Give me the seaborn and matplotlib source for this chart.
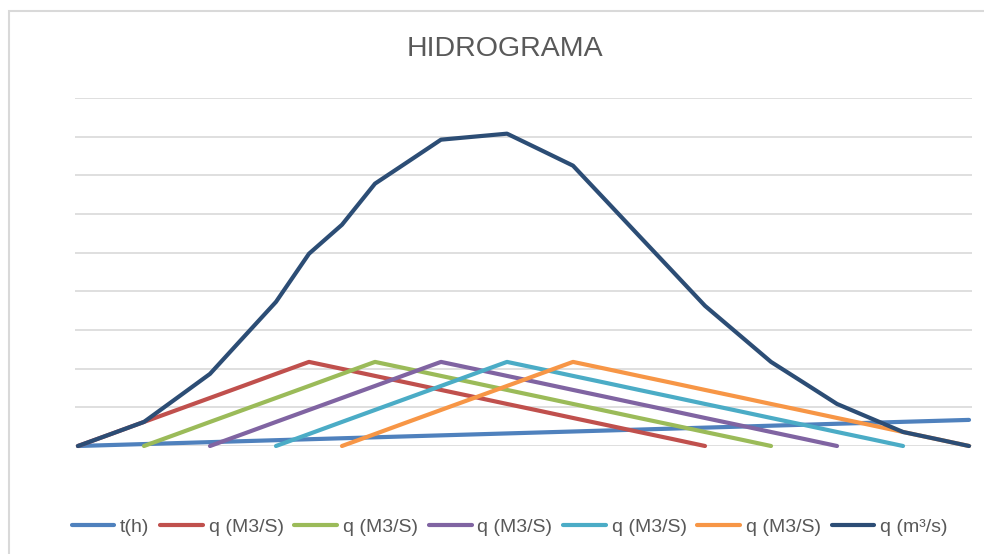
import numpy as np
import pandas as pd
import seaborn as sns
import matplotlib.pyplot as plt
from matplotlib.patches import Rectangle

nan = np.nan

# time steps (categories on the x axis)
t_h = [0, 1, 2, 3, 4, 5, 6, 7, 8, 9, 10, 11, 12, 13,
       14, 15, 16, 17, 18, 19, 20, 21, 22, 23, 24, 25, 26, 27]

# partial hydrographs, each shifted by two steps
q1 = [0, 12.4, 24.9, 37.3, 49.7, 62.1, 74.6, 87, 79.8, 72.5, 65.3, 58, 50.8, 43.5,
      36.3, 29, 21.8, 14.5, 7.3, 0, nan, nan, nan, nan, nan, nan, nan, nan]
q2 = [nan, nan, 0, 12.4, 24.9, 37.3, 49.7, 62.1, 74.6, 87, 79.8, 72.5, 65.3, 58,
      50.8, 43.5, 36.3, 29, 21.8, 14.5, 7.3, 0, nan, nan, nan, nan, nan, nan]
q3 = [nan, nan, nan, nan, 0, 12.4, 24.9, 37.3, 49.7, 62.1, 74.6, 87, 79.8, 72.5,
      65.3, 58, 50.8, 43.5, 36.3, 29, 21.8, 14.5, 7.3, 0, nan, nan, nan, nan]
q4 = [nan, nan, nan, nan, nan, nan, 0, 12.4, 24.9, 37.3, 49.7, 62.1, 74.6, 87,
      79.8, 72.5, 65.3, 58, 50.8, 43.5, 36.3, 29, 21.8, 14.5, 7.3, 0, nan, nan]
q5 = [nan, nan, nan, nan, nan, nan, nan, nan, 0, 12.4, 24.9, 37.3, 49.7, 62.1,
      74.6, 87, 79.8, 72.5, 65.3, 58, 50.8, 43.5, 36.3, 29, 21.8, 14.5, 7.3, 0]
# total hydrograph
q_total = [0, 12.4, 24.9, 49.7, 74.6, 111.9, 149.1, 198.9, 228.9, 271.4, 294.1,
           316.9, 320.0, 323.1, 306.6, 290.0, 253.8, 217.5, 181.3, 145.0, 116.0,
           87.0, 65.3, 43.5, 29.0, 14.5, 7.3, 0]

labels = ['t(h)', 'q (M3/S)', 'q (M3/S)', 'q (M3/S)', 'q (M3/S)', 'q (M3/S)', 'q (m³/s)']
colors = ['#4F81BD', '#C0504D', '#9BBB59', '#8064A2', '#4BACC6', '#F79646', '#2C4D75']
series = [t_h, q1, q2, q3, q4, q5, q_total]

sns.set_style('white')
plt.rcParams['font.family'] = ['Liberation Sans', 'DejaVu Sans']

fig = plt.figure(figsize=(9.84, 5.54), dpi=100)
ax = fig.add_axes([75 / 984, 1 - 446 / 554, (972 - 75) / 984, (446 - 98) / 554])

idx = list(range(len(t_h)))
for vals, lab, col in zip(series, labels, colors):
    df = pd.DataFrame({'x': idx, 'y': vals}).dropna()
    sns.lineplot(data=df, x='x', y='y', color=col, label=lab, linewidth=3, ax=ax)

for ln in ax.lines:
    ln.set_clip_on(False)
    ln.set_solid_capstyle('round')
    ln.set_solid_joinstyle('round')

ax.set_xlim(-0.09, 27.09)
ax.set_ylim(0, 360)
ax.set_yticks(np.arange(0, 361, 40))
ax.set_xticks([])
ax.yaxis.grid(True, color='#d9d9d9', linewidth=1.2)
ax.set_axisbelow(True)
ax.tick_params(left=False, labelleft=False)
ax.set_xlabel('')
ax.set_ylabel('')
for s in ax.spines.values():
    s.set_visible(False)

handles, labs = ax.get_legend_handles_labels()
ax.get_legend().remove()
leg = fig.legend(handles, labs, loc='center left', bbox_to_anchor=(54 / 984, 1 - 527 / 554),
                 ncol=7, frameon=False, fontsize=14, handlelength=2.2,
                 handletextpad=0.3, columnspacing=0.55, labelcolor='#595959')
# the last legend entry is cut off at the chart edge in the original
clip = Rectangle((0, 0), 950 / 984, 1, transform=fig.transFigure, visible=False)
fig.add_artist(clip)
for txt in leg.get_texts():
    txt.set_clip_path(clip)

fig.text(505 / 984, 1 - 49 / 554, 'HIDROGRAMA', ha='center', va='center',
         fontsize=20.5, color='#595959')

fig.patches.append(Rectangle((9 / 984, -0.2), 1.2, 1.2 - 11 / 554,
                             transform=fig.transFigure, fill=False,
                             edgecolor='#d9d9d9', linewidth=1.5))

fig.savefig('out.png', dpi=100)
